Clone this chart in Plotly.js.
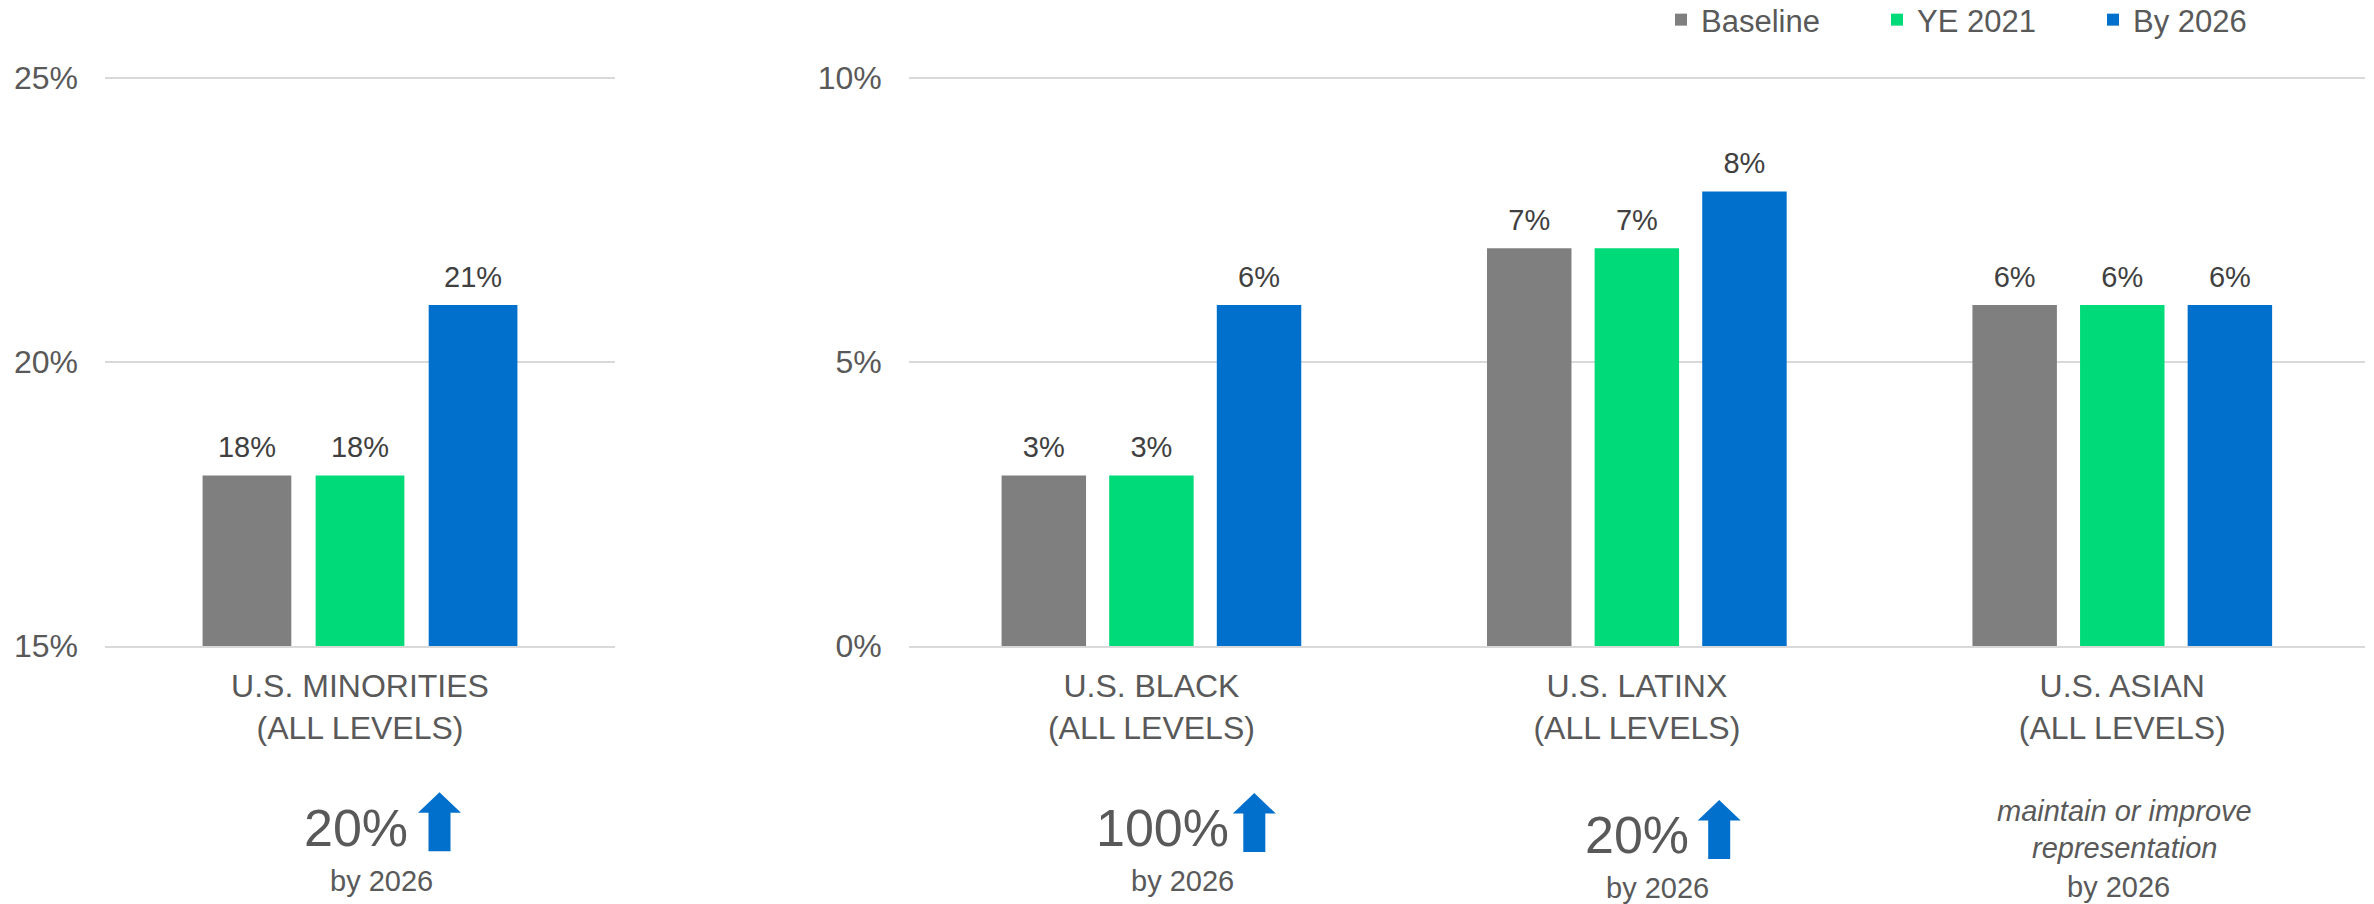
<!DOCTYPE html>
<html>
<head>
<meta charset="utf-8">
<script src="https://cdn.plot.ly/plotly-3.0.1.min.js"></script>
<style>
html, body { margin: 0; padding: 0; background: #ffffff; }
#chart { width: 2374px; height: 904px; }
</style>
</head>
<body>
<div id="chart"></div>
<script>
// ---------------- data ----------------
const seriesNames = ['Baseline', 'YE 2021', 'By 2026'];
const seriesColors = ['#7F7F7F', '#00DA78', '#0070CC'];

const categoriesLeft = ['U.S. MINORITIES<br>(ALL LEVELS)'];
const baselineLeft = [18];
const ye2021Left = [18];
const by2026Left = [21];

const categoriesRight = ['U.S. BLACK<br>(ALL LEVELS)', 'U.S. LATINX<br>(ALL LEVELS)', 'U.S. ASIAN<br>(ALL LEVELS)'];
const baselineRight = [3, 7, 6];
const ye2021Right = [3, 7, 6];
const by2026Right = [6, 8, 6];

const leftTickVals = [15, 20, 25];
const leftTickText = ['15%', '20%', '25%'];
const rightTickVals = [0, 5, 10];
const rightTickText = ['0%', '5%', '10%'];

// ---------------- layout helpers ----------------
const W = 2374, H = 904;
const M = {l: 0, r: 0, t: 75, b: 258, autoexpand: false};
const px2x = px => px / W;
const py2y = py => (H - M.b - py) / (H - M.t - M.b);

const FONT = 'Liberation Sans, Arial, sans-serif';
const TEXT_GREY = '#595959';
const LABEL_GREY = '#404040';
const GRID = '#D9D9D9';

const leftSeries = [baselineLeft, ye2021Left, by2026Left];
const rightSeries = [baselineRight, ye2021Right, by2026Right];

const traces = [];
function addBars(cats, seriesList, xa, ya, showLegend) {
  seriesList.forEach((vals, i) => {
    traces.push({
      type: 'bar', x: cats, y: vals, name: seriesNames[i],
      xaxis: xa, yaxis: ya,
      marker: {color: seriesColors[i]},
      legendgroup: seriesNames[i], showlegend: showLegend,
      hovertemplate: '%{y}%<extra>' + seriesNames[i] + '</extra>'
    });
  });
  seriesList.forEach((vals, i) => {
    traces.push({
      type: 'scatter', mode: 'markers+text', x: cats, y: vals,
      xaxis: xa, yaxis: ya,
      text: vals.map(v => v + '%'),
      textposition: 'top center',
      textfont: {family: FONT, size: 29, color: LABEL_GREY},
      marker: {size: 16, opacity: 0, color: seriesColors[i]},
      showlegend: false, hoverinfo: 'skip', cliponaxis: false
    });
  });
}
addBars(categoriesLeft, leftSeries, 'x', 'y', false);
addBars(categoriesRight, rightSeries, 'x2', 'y2', true);

function arrowPath(cx, top) {
  const headW = 43, headH = 20.5, shaftW = 22, total = 59;
  const pts = [
    [cx, top],
    [cx + headW / 2, top + headH],
    [cx + shaftW / 2, top + headH],
    [cx + shaftW / 2, top + total],
    [cx - shaftW / 2, top + total],
    [cx - shaftW / 2, top + headH],
    [cx - headW / 2, top + headH]
  ];
  return 'M' + pts.map(p => px2x(p[0]).toFixed(6) + ',' + py2y(p[1]).toFixed(6)).join('L') + 'Z';
}

const shapes = [
  {type: 'path', xref: 'paper', yref: 'paper', path: arrowPath(439.5, 792.3), fillcolor: '#0070CC', line: {width: 0}},
  {type: 'path', xref: 'paper', yref: 'paper', path: arrowPath(1254.3, 793), fillcolor: '#0070CC', line: {width: 0}},
  {type: 'path', xref: 'paper', yref: 'paper', path: arrowPath(1719.2, 800), fillcolor: '#0070CC', line: {width: 0}}
];

function ann(text, cx, cy, size, italic) {
  return {
    xref: 'paper', yref: 'paper', x: px2x(cx), y: py2y(cy),
    xanchor: 'center', yanchor: 'middle', showarrow: false,
    text: italic ? '<i>' + text + '</i>' : text,
    font: {family: FONT, size: size, color: TEXT_GREY}
  };
}
const annotations = [
  ann('20%', 356, 827.5, 52),
  ann('by 2026', 381.3, 881, 29),
  ann('100%', 1162, 828.4, 52),
  ann('by 2026', 1182.8, 881, 29),
  ann('20%', 1637, 835.3, 52),
  ann('by 2026', 1657.8, 888, 29),
  ann('maintain or improve', 2124.4, 811, 29, true),
  ann('representation', 2124.4, 848, 29, true),
  ann('by 2026', 2118.4, 887, 29)
];

const yCommon = {
  showgrid: true, gridcolor: GRID, gridwidth: 1.5,
  zeroline: false, showline: false, ticks: '',
  tickmode: 'array',
  tickfont: {family: FONT, size: 32, color: TEXT_GREY},
  ticklabelstandoff: 26, fixedrange: true
};
const xCommon = {
  type: 'category', showgrid: false, zeroline: false,
  showline: true, linecolor: GRID, linewidth: 1.5, ticks: '',
  tickfont: {family: FONT, size: 32, color: TEXT_GREY},
  ticklabelstandoff: 11, fixedrange: true
};

const layout = {
  width: W, height: H,
  margin: M,
  paper_bgcolor: '#ffffff', plot_bgcolor: '#ffffff',
  font: {family: FONT, color: TEXT_GREY},
  barmode: 'group', bargap: 0.335, bargroupgap: 0.215,
  scattermode: 'group', scattergap: 0.335,
  xaxis: Object.assign({}, xCommon, {domain: [px2x(105), px2x(615)], anchor: 'y'}),
  yaxis: Object.assign({}, yCommon, {range: [15, 25.05], tickvals: leftTickVals, ticktext: leftTickText, anchor: 'x'}),
  xaxis2: Object.assign({}, xCommon, {domain: [px2x(908.7), px2x(2365)], anchor: 'y2'}),
  yaxis2: Object.assign({}, yCommon, {range: [0, 10.05], tickvals: rightTickVals, ticktext: rightTickText, anchor: 'x2'}),
  showlegend: true,
  legend: {
    orientation: 'h', xref: 'paper', yref: 'paper',
    x: px2x(1661), y: py2y(-7), xanchor: 'left', yanchor: 'top',
    font: {family: FONT, size: 31, color: TEXT_GREY},
    entrywidth: 171, traceorder: 'normal', bgcolor: 'rgba(0,0,0,0)'
  },
  shapes: shapes,
  annotations: annotations
};

Plotly.newPlot('chart', traces, layout, {displayModeBar: false, staticPlot: false});
</script>
</body>
</html>
